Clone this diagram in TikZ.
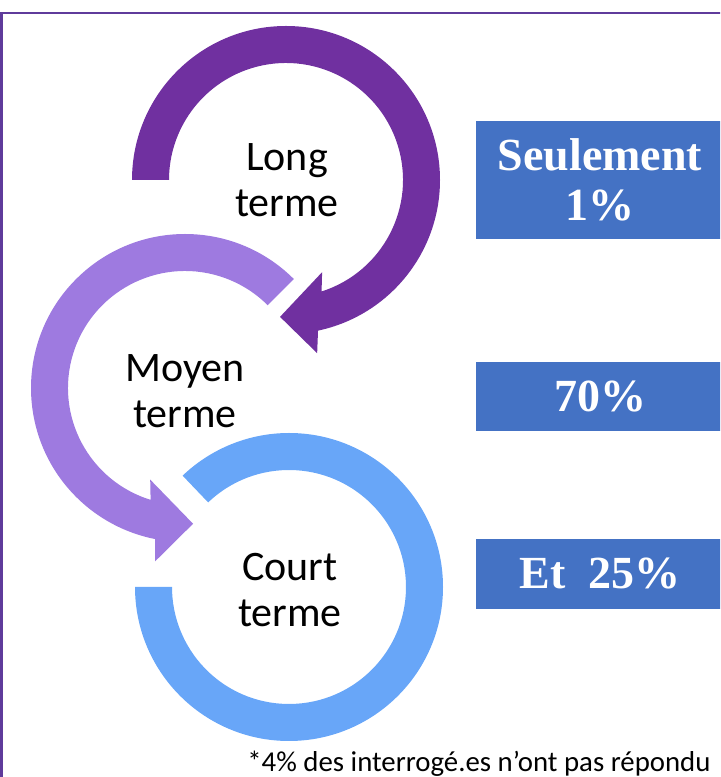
\documentclass[tikz,border=0pt]{standalone}
\usepackage{fontspec}
\setmainfont{Carlito}
\newfontfamily\boxfont{Liberation Serif}
\usetikzlibrary{calc}
\definecolor{longcol}{HTML}{7030A0}
\definecolor{moyencol}{HTML}{9E7AE0}
\definecolor{courtcol}{HTML}{68A6F8}
\definecolor{boxcol}{HTML}{4472C4}
\definecolor{framecol}{HTML}{5F3B9B}
\tikzset{
        ringtext/.style={align=center, font=\fontsize{21}{23}\selectfont},
        valuebox/.style={fill=boxcol, text=white, align=center, inner sep=0pt,
                minimum width=124pt, font=\boxfont\bfseries\fontsize{23}{25}\selectfont},
}

\begin{document}
\begin{tikzpicture}[x=0.5pt, y=0.5pt]
        \useasboundingbox (0,0) rectangle (720,777);
        \clip (0,0) rectangle (720,777);
        \draw [framecol, line width=1.2pt] (1.5,764) rectangle (740,-20);
        % ring centres
        \coordinate (c1) at (286,597);
        \coordinate (c2) at (185,389);
        \coordinate (c3) at (289,190);
        % long terme
        \fill [longcol] ($(c1)+(180:154)$) arc [start angle=180, end angle=-78, radius=154]
                -- ($(c1)+(-79.8:176)$) -- ($(c1)+(-92.5:137)$) -- ($(c1)+(-68.6:99)$)
                -- ($(c1)+(-72.3:117)$) arc [start angle=-72.3, end angle=180, radius=117] -- cycle;
        % moyen terme
        \fill [moyencol] ($(c2)+(45:154)$) arc [start angle=45, end angle=258.8, radius=154]
                -- ($(c2)+(260.2:176)$) -- ($(c2)+(273.4:136)$) -- ($(c2)+(249.2:98)$)
                -- ($(c2)+(252.9:117)$) arc [start angle=252.9, end angle=45, radius=117] -- cycle;
        % court terme
        \fill [courtcol] ($(c3)+(180:154)$) arc [start angle=180, end angle=493.7, radius=154]
                -- ($(c3)+(133.7:117)$) arc [start angle=493.7, end angle=180, radius=117] -- cycle;
        \node (long) [ringtext] at (287,597) {Long\\terme};
        \node (moyen) [ringtext] at (185,386) {Moyen\\terme};
        \node (court) [ringtext] at (290,187) {Court\\terme};
        \node (box1) [valuebox, minimum height=59pt] at (600,597) {Seulement\\1\%};
        \node (box2) [valuebox, minimum height=34.5pt] at (600,380.5) {70\%};
        \node (box3) [valuebox, minimum height=35pt] at (600,203) {Et~ 25\%};
        \node (note) [anchor=base west, inner sep=0pt, font=\fontsize{14.4}{17}\selectfont]
                at (247,5) {*4\% des interrogé.es n’ont pas répondu};
\end{tikzpicture}
\end{document}
